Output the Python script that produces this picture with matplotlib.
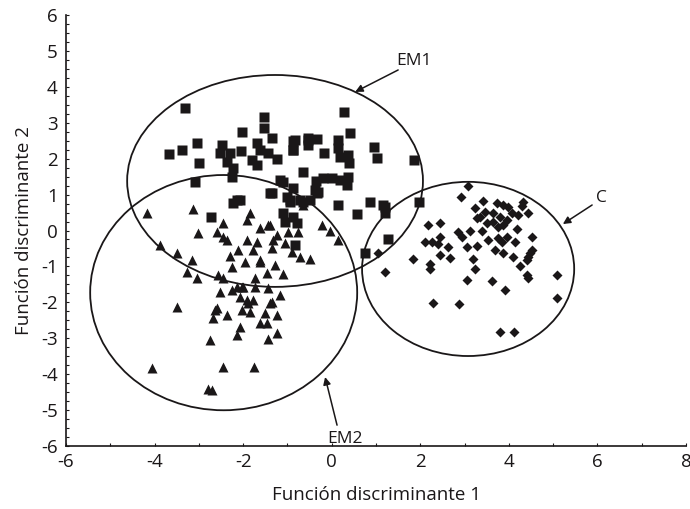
import matplotlib.pyplot as plt
from matplotlib.patches import Ellipse
from matplotlib.ticker import MultipleLocator

plt.rcParams['font.family'] = ['Open Sans', 'DejaVu Sans']
plt.rcParams['axes.unicode_minus'] = False

# --- data ---
em1_x = [-3.31, -1.53, -1.53, -2.02, -1.35, -3.04, -2.48, -1.69, -0.87, -0.53,
         -3.38, -3.67, -2.05, -1.62, -0.87, -2.52, -2.30, -1.44, -2.99, -2.36,
         -1.80, -1.24, -1.69, -2.23, -0.65, -2.25, -3.08, -1.17, -0.87, -1.35,
         -1.01, -0.72, -2.14, -0.38, 0.28, 0.41, -0.83, -0.53, -0.33, 0.14,
         -0.87, -0.53, -0.17, 0.14, 0.96, 1.02, 0.19, 0.37, 0.39, 1.86,
         -0.36, -0.20, 0.01, 0.19, 0.37, 0.34, -0.31, -1.10, 0.87, 1.16,
         0.14, 1.97, -0.49, -0.94, -1.39, -0.94, -0.65, -0.33, 0.57, -1.10,
         -0.87, -0.78, -0.83, 0.75, -1.05, -2.72, -2.23, -2.07, 1.21, 1.21,
         1.26]
em1_y = [3.41, 3.16, 2.85, 2.74, 2.57, 2.44, 2.38, 2.44, 2.49, 2.52,
         2.24, 2.13, 2.21, 2.24, 2.24, 2.16, 2.16, 2.16, 1.88, 1.91,
         1.96, 1.99, 1.82, 1.74, 1.63, 1.49, 1.35, 1.41, 1.18, 1.04,
         0.93, 0.85, 0.85, 1.13, 3.30, 2.71, 2.52, 2.58, 2.55, 2.52,
         2.24, 2.38, 2.16, 2.30, 2.33, 2.02, 2.05, 2.10, 1.88, 1.96,
         1.38, 1.46, 1.46, 1.41, 1.49, 1.27, 1.07, 1.35, 0.79, 0.71,
         0.71, 0.79, 0.85, 0.85, 1.04, 0.79, 0.79, 1.04, 0.46, 0.49,
         0.38, 0.21, -0.40, -0.63, 0.24, 0.38, 0.77, 0.85, 0.66, 0.49,
         -0.24]

em2_x = [-0.65, -0.22, -0.04, 0.14, -1.84, -1.62, -1.39, -1.24, -0.99, -0.76,
         -1.35, -1.05, -0.72, -1.62, -1.28, -4.17, -3.13, -3.01, -2.59, -2.45,
         -1.91, -2.45, -2.36, -1.44, -1.91, -1.69, -1.33, -2.11, -1.77, -3.88,
         -3.49, -3.15, -3.27, -3.04, -2.25, -1.96, -1.62, -2.57, -2.45, -1.73,
         -1.46, -2.14, -2.00, -1.73, -1.44, -2.52, -2.07, -1.91, -1.77, -3.49,
         -2.59, -1.35, -2.25, -2.02, -1.89, -1.39, -1.17, -2.63, -2.68, -2.36,
         -2.02, -1.84, -1.50, -1.24, -1.62, -1.46, -2.07, -2.14, -1.24, -1.44,
         -2.74, -2.45, -1.75, -2.79, -2.70, -4.05, -1.10, -0.50, -0.90, -2.30]
em2_y = [0.71, 0.15, -0.01, -0.26, 0.49, 0.07, 0.15, -0.13, -0.04, -0.04,
         -0.49, -0.35, -0.74, -0.82, -0.96, 0.49, 0.60, -0.07, -0.04, 0.21,
         0.29, -0.18, -0.26, 0.15, -0.26, -0.32, -0.26, -0.54, -0.54, -0.40,
         -0.63, -0.82, -1.16, -1.32, -1.02, -0.88, -0.88, -1.24, -1.32, -1.32,
         -1.18, -1.57, -1.57, -1.57, -1.60, -1.71, -1.85, -1.94, -1.94, -2.13,
         -2.16, -1.99, -1.66, -1.57, -2.02, -2.02, -1.80, -2.21, -2.44, -2.35,
         -2.21, -2.27, -2.30, -2.35, -2.58, -2.58, -2.69, -2.91, -2.86, -3.02,
         -3.05, -3.80, -3.80, -4.42, -4.45, -3.82, -1.20, -0.80, -0.60, -0.70]

c_x = [3.08, 2.92, 3.42, 3.73, 3.87, 3.98, 4.32, 4.30, 3.24, 3.46,
       3.35, 3.28, 3.64, 4.07, 4.21, 4.43, 3.80, 3.96, 3.64, 3.51,
       2.18, 2.45, 3.75, 3.87, 4.19, 3.40, 3.13, 2.85, 2.94, 2.45,
       3.53, 3.75, 3.96, 3.85, 4.52, 4.14, 2.11, 2.27, 2.40, 2.63,
       3.05, 3.28, 3.69, 3.87, 4.52, 4.48, 4.43, 2.45, 2.68, 3.19,
       4.10, 4.41, 1.84, 2.22, 2.22, 3.24, 4.25, 1.20, 4.41, 4.43,
       5.09, 3.05, 3.62, 3.91, 5.09, 2.29, 2.88, 3.80, 4.12, 1.05]
c_y = [1.24, 0.93, 0.82, 0.77, 0.71, 0.66, 0.79, 0.68, 0.63, 0.52,
       0.38, 0.35, 0.49, 0.49, 0.43, 0.49, 0.38, 0.29, 0.24, 0.21,
       0.15, 0.21, 0.10, 0.15, 0.04, -0.01, -0.01, -0.04, -0.18, -0.18,
       -0.26, -0.21, -0.18, -0.32, -0.18, -0.32, -0.32, -0.32, -0.38, -0.46,
       -0.46, -0.43, -0.54, -0.63, -0.54, -0.63, -0.74, -0.68, -0.77, -0.79,
       -0.74, -0.82, -0.79, -0.93, -1.07, -1.07, -0.99, -1.16, -1.24, -1.32,
       -1.24, -1.38, -1.41, -1.66, -1.88, -2.02, -2.05, -2.83, -2.83, -0.63]

# ellipses: (center x, center y, width, height)
ellipses = {
    'EM1': (-1.28, 1.38, 6.68, 5.90),
    'EM2': (-2.44, -1.73, 6.03, 6.55),
    'C': (3.08, -1.07, 4.79, 4.85),
}

# labels: text position, arrow start, arrow tip
labels = {
    'EM1': ((1.85, 4.72), (1.50, 4.47), (0.53, 3.86)),
    'C': ((6.10, 0.90), (5.88, 0.71), (5.22, 0.18)),
    'EM2': ((0.30, -5.80), (0.12, -5.42), (-0.15, -4.08)),
}

ink = '#1a1718'

fig = plt.figure(figsize=(6.9, 5.09), dpi=100)
ax = fig.add_axes([0.0957, 0.1238, 0.8985, 0.8467])

ax.plot(em1_x, em1_y, 's', color=ink, ms=6.5, mec='none')
ax.plot(em2_x, em2_y, '^', color=ink, ms=7, mec='none')
ax.plot(c_x, c_y, 'D', color=ink, ms=5.5, mec='none')

for name, (cx, cy, w, h) in ellipses.items():
    ax.add_patch(Ellipse((cx, cy), w, h, fill=False, ec=ink, lw=1.3))

for name, (txt, start, tip) in labels.items():
    ax.text(txt[0], txt[1], name, fontsize=12.5, ha='center', va='center', color=ink)
    ax.annotate('', xy=tip, xytext=start,
                arrowprops=dict(arrowstyle='-|>', color=ink, lw=1.1,
                                mutation_scale=11, shrinkA=0, shrinkB=0))

ax.set_xlim(-6, 8)
ax.set_ylim(-6, 6)
ax.xaxis.set_major_locator(MultipleLocator(2))
ax.xaxis.set_minor_locator(MultipleLocator(1))
ax.yaxis.set_major_locator(MultipleLocator(1))
ax.yaxis.set_minor_locator(MultipleLocator(0.25))
ax.tick_params(which='both', direction='in', length=2.5, width=0.8,
               labelsize=13.5, colors=ink)
ax.tick_params(axis='x', pad=5)
ax.tick_params(axis='y', pad=6)
ax.spines['top'].set_visible(False)
ax.spines['right'].set_visible(False)
for s in ('left', 'bottom'):
    ax.spines[s].set_linewidth(1.2)
    ax.spines[s].set_color(ink)

ax.set_xlabel('Función discriminante 1', fontsize=13.5, labelpad=11, color=ink)
ax.set_ylabel('Función discriminante 2', fontsize=13.5, labelpad=6, color=ink)

plt.savefig('out.png', dpi=100)
